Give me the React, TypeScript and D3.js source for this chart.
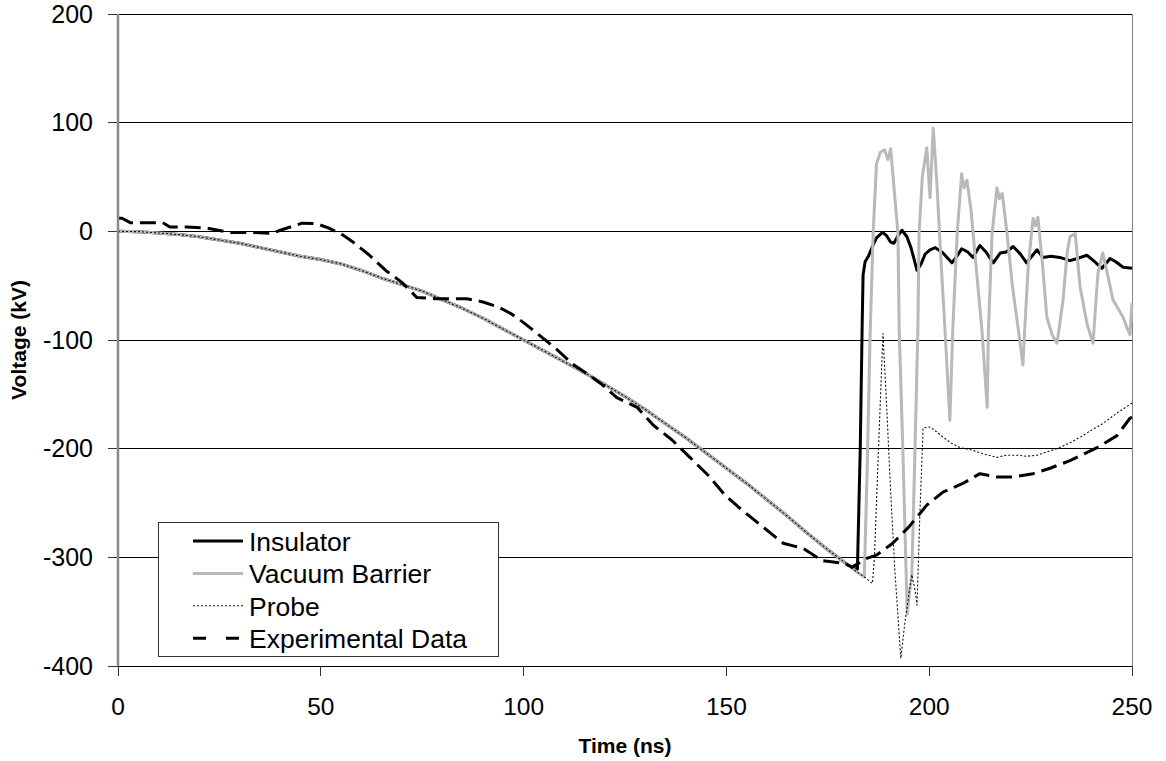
import React from "react";
import * as d3 from "d3";

const WIDTH = 1166;
const HEIGHT = 761;

// Axis ticks
const xTicks = [0, 50, 100, 150, 200, 250];
const yTicks = [200, 100, 0, -100, -200, -300, -400];

// Shared early ramp (all three simulated traces coincide before ~181 ns)
const rampData: [number, number][] = [
  [0, 0], [5, -0.3], [10, -1.5], [15, -3], [20, -5], [25, -8], [30, -11], [35, -15],
  [40, -19], [45, -23], [50, -26], [55, -30], [60, -36], [65, -43], [70, -49], [75, -55],
  [80, -63], [85, -71], [90, -80], [95, -90], [100, -100], [105, -110], [110, -120],
  [115, -130], [120, -141], [125, -152], [130, -164], [135, -177], [140, -190], [145, -204],
  [150, -218], [155, -232], [160, -247], [165, -262], [170, -278], [175, -293], [180, -307],
];

const insulatorTail: [number, number][] = [
  [181, -310], [182.3, -311], [183.0, -200], [183.5, -80], [183.7, -40], [184.2, -28],
  [185, -23], [186, -14], [187, -6], [188.5, -1], [189.5, -4], [190.5, -10], [191.3, -11],
  [192.3, -4], [193.3, 1], [194.5, -5], [195.5, -15], [196.3, -26], [197, -36], [198, -30],
  [199, -21], [200.2, -17], [201.5, -15], [203.4, -20], [205.6, -29], [207, -22], [208, -16],
  [209.5, -19], [210.8, -24], [212.5, -13], [214, -19], [215.8, -29], [217.5, -20], [219, -19],
  [220.7, -14], [222.5, -21], [224, -29], [225.5, -22], [226.6, -17], [228, -24], [230, -23],
  [232.2, -24], [234.7, -27], [236.5, -25], [238.9, -22], [240.5, -27], [242.6, -34],
  [244.6, -25], [246, -28], [247.8, -33], [250, -34],
];

const vacuumTail: [number, number][] = [
  [182, -313], [184, -318], [184.7, -220], [185.4, -100], [186.2, 0], [187, 62], [188, 73],
  [189, 75], [189.8, 66], [190.5, 76], [191.1, 50], [191.6, 28], [192.3, -2], [192.6, -91],
  [193.5, -200], [194.2, -300], [194.6, -352], [195.2, -330], [195.7, -318], [196.5, -200],
  [197.2, -91], [197.5, -2], [198.3, 50], [199.4, 77], [200.2, 31], [201, 95], [201.9, 44],
  [202.8, -20], [203.9, -91], [205.1, -174], [205.8, -91], [206.9, -2], [208, 53], [208.6, 40],
  [209.3, 47], [210.3, 20], [211.5, -30], [213, -91], [214.3, -162], [214.6, -91], [215.5, -2],
  [216.7, 40], [217.3, 30], [218, 35], [219.2, -2], [220.5, -50], [222, -91], [223.1, -123],
  [223.7, -80], [224.4, -33], [225.6, 12], [226.2, 5], [226.8, 13], [228, -33], [229, -79],
  [230.3, -95], [231.5, -103], [232.2, -85], [233, -63], [234, -20], [234.7, -5], [236, -2],
  [237.2, -51], [238.9, -85], [240.4, -103], [241, -70], [241.6, -39], [242.8, -20],
  [244, -40], [245.3, -63], [247.8, -79], [249, -91], [249.5, -95], [250, -66],
];

const probeTail: [number, number][] = [
  [182, -313], [184, -318], [186, -324], [186.5, -300], [187.5, -200], [188.6, -94],
  [189.5, -160], [190.5, -240], [191.5, -310], [193, -393], [194, -360], [195.7, -316],
  [196.5, -330], [197, -344], [197.7, -260], [198.5, -181], [200.2, -180], [202, -185],
  [203.4, -189.5], [205.5, -195], [207.6, -199], [210.8, -201.5], [213.5, -205], [216.7, -208],
  [219, -206], [221.6, -206], [224, -207], [226.6, -206], [229, -203], [231.5, -200],
  [234.5, -195], [237.2, -189.5], [240, -183], [242.8, -177], [246, -168], [248, -163],
  [250, -158],
];

const experimentalData: [number, number][] = [
  [0, 12], [1, 12], [3, 8], [11, 8], [12.8, 4], [17, 4], [22, 3], [27.6, -1], [33, -1],
  [38, -2], [40, 1], [45.4, 7.5], [49, 7], [52, 3], [55.5, -3.5], [58, -10], [62, -22],
  [66, -36], [70, -47], [73.7, -61], [78.6, -62], [86, -62], [90, -65], [94, -70], [97, -76],
  [100, -84], [104, -96], [108, -108], [112, -122], [116, -132], [119, -140], [123, -153],
  [128, -162], [132, -178.5], [136.6, -192], [141, -208], [145.5, -224.5], [149.7, -243],
  [154, -257], [159, -272], [164, -287], [169, -292], [173.6, -303], [179, -305.5],
  [181, -309], [184.6, -301], [187, -298], [191, -287], [195, -272], [199.4, -252],
  [203.4, -240], [208.3, -232], [212.5, -223], [216.7, -226], [220.7, -226], [225.6, -223],
  [229.8, -218], [234.7, -211], [241.4, -199], [246.3, -188], [249.5, -172], [250, -171],
];

const seriesNames = ["Insulator", "Vacuum Barrier", "Probe", "Experimental Data"];

const insulatorData = rampData.concat(insulatorTail);
const vacuumData = rampData.concat(vacuumTail);
const probeData = rampData.concat(probeTail);

const FONT = "'Liberation Sans', Arial, sans-serif";

export default function App() {
  const left = 118;
  const right = 1132;
  const top = 14;
  const bottom = 666;

  const x = d3.scaleLinear().domain([0, 250]).range([left, right]);
  const y = d3.scaleLinear().domain([-400, 200]).range([bottom, top]);
  const line = d3
    .line<[number, number]>()
    .x((d) => x(d[0]))
    .y((d) => y(d[1]))
    .curve(d3.curveLinear);

  const styles = [
    { stroke: "#000", width: 3, dash: undefined as string | undefined, legendDash: undefined as string | undefined },
    { stroke: "#b9b9b9", width: 3, dash: undefined, legendDash: undefined },
    { stroke: "#111", width: 1.1, dash: "2 2", legendDash: "2 2" },
    { stroke: "#000", width: 3, dash: "16 7", legendDash: "13 20" },
  ];
  const datasets = [insulatorData, vacuumData, probeData, experimentalData];

  const legendX = 158;
  const legendY = 522;
  const legendW = 340;
  const legendH = 134;
  const rowGap = 32.4;

  return (
    <div style={{ position: "fixed", left: 0, top: 0 }}>
      <svg width={WIDTH} height={HEIGHT} style={{ display: "block", background: "#fff" }}>
        <rect x={0} y={0} width={WIDTH} height={HEIGHT} fill="#fff" />
        {/* gridlines */}
        {yTicks.map((t) => (
          <line key={"g" + t} x1={left} x2={right} y1={y(t)} y2={y(t)} stroke="#000" strokeWidth={1} shapeRendering="crispEdges" />
        ))}
        {/* right border */}
        <line x1={right} x2={right} y1={top} y2={bottom} stroke="#808080" strokeWidth={1} shapeRendering="crispEdges" />
        {/* y ticks */}
        {yTicks.map((t) => (
          <line key={"yt" + t} x1={left - 10} x2={left} y1={y(t)} y2={y(t)} stroke="#333" strokeWidth={1} shapeRendering="crispEdges" />
        ))}
        {/* x ticks */}
        {xTicks.map((t) => (
          <line key={"xt" + t} x1={x(t)} x2={x(t)} y1={bottom} y2={bottom + 10} stroke="#333" strokeWidth={1} shapeRendering="crispEdges" />
        ))}
        {/* series */}
        {datasets.map((data, i) => (
          <path
            key={"s" + i}
            d={line(data) || ""}
            fill="none"
            stroke={styles[i].stroke}
            strokeWidth={styles[i].width}
            strokeDasharray={styles[i].dash}
            strokeLinejoin="round"
          />
        ))}
        {/* y axis line */}
        <line x1={left} x2={left} y1={top} y2={bottom} stroke="#8a8a8a" strokeWidth={2.5} />
        {/* y tick labels */}
        {yTicks.map((t) => (
          <text key={"yl" + t} x={93} y={y(t) + 8.5} textAnchor="end" fontFamily={FONT} fontSize={25} fill="#000">
            {t}
          </text>
        ))}
        {/* x tick labels */}
        {xTicks.map((t) => (
          <text key={"xl" + t} x={x(t)} y={715} textAnchor="middle" fontFamily={FONT} fontSize={24.5} fill="#000">
            {t}
          </text>
        ))}
        {/* axis titles */}
        <text x={(left + right) / 2} y={753} textAnchor="middle" fontFamily={FONT} fontSize={21} fontWeight="bold">
          Time (ns)
        </text>
        <text
          transform={`translate(26, ${(top + bottom) / 2}) rotate(-90)`}
          textAnchor="middle"
          fontFamily={FONT}
          fontSize={21}
          fontWeight="bold"
        >
          Voltage (kV)
        </text>
        {/* legend */}
        <rect x={legendX} y={legendY} width={legendW} height={legendH} fill="#fff" stroke="#333" strokeWidth={1} shapeRendering="crispEdges" />
        {seriesNames.map((name, i) => {
          const base = 551 + i * rowGap;
          return (
            <g key={"lg" + i}>
              <line
                x1={193}
                x2={243}
                y1={base - 10}
                y2={base - 10}
                stroke={styles[i].stroke}
                strokeWidth={styles[i].width}
                strokeDasharray={styles[i].legendDash}
              />
              <text x={249} y={base} fontFamily={FONT} fontSize={26.5} fill="#000">
                {name}
              </text>
            </g>
          );
        })}
      </svg>
    </div>
  );
}
